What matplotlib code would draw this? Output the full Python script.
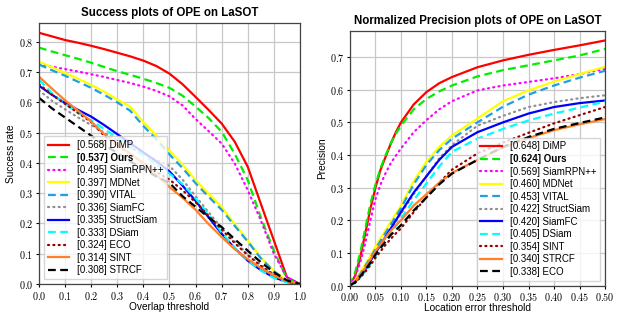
import numpy as np
import matplotlib
matplotlib.use("Agg")
import matplotlib.pyplot as plt
from matplotlib.ticker import FuncFormatter

plt.rcParams["mathtext.fontset"] = "cm"
plt.rcParams["font.family"] = ["Liberation Sans", "DejaVu Sans"]

# ---- success plot (overlap threshold) ----
overlap = [0.0, 0.05, 0.1, 0.15, 0.2, 0.25, 0.3, 0.35, 0.4, 0.45, 0.5,
           0.55, 0.6, 0.65, 0.7, 0.75, 0.8, 0.85, 0.9, 0.95, 1.0]

succ_names = ["DiMP", "Ours", "SiamRPN++", "MDNet", "VITAL", "SiamFC",
              "StructSiam", "DSiam", "ECO", "SINT", "STRCF"]
succ_auc = ["0.568", "0.537", "0.495", "0.397", "0.390", "0.336",
            "0.335", "0.333", "0.324", "0.314", "0.308"]

succ_dimp = [0.83, 0.818, 0.806, 0.797, 0.787, 0.776, 0.764, 0.752, 0.738, 0.72, 0.695,
             0.66, 0.618, 0.575, 0.53, 0.47, 0.387, 0.265, 0.144, 0.022, 0.0]
succ_ours = [0.781, 0.768, 0.756, 0.744, 0.731, 0.717, 0.703, 0.691, 0.678, 0.664, 0.648,
             0.622, 0.586, 0.548, 0.503, 0.43, 0.343, 0.22, 0.11, 0.017, 0.0]
succ_siamrpn = [0.725, 0.718, 0.71, 0.702, 0.693, 0.684, 0.674, 0.664, 0.652, 0.638, 0.62,
                0.59, 0.545, 0.505, 0.464, 0.398, 0.31, 0.21, 0.10, 0.022, 0.0]
succ_mdnet = [0.735, 0.716, 0.697, 0.678, 0.658, 0.635, 0.61, 0.585, 0.535, 0.49, 0.44,
              0.395, 0.343, 0.298, 0.254, 0.198, 0.144, 0.088, 0.044, 0.011, 0.0]
succ_vital = [0.725, 0.706, 0.688, 0.668, 0.648, 0.625, 0.6, 0.572, 0.522, 0.478, 0.428,
              0.383, 0.333, 0.288, 0.245, 0.192, 0.14, 0.085, 0.042, 0.01, 0.0]
succ_siamfc = [0.64, 0.605, 0.577, 0.55, 0.525, 0.50, 0.475, 0.45, 0.43, 0.41, 0.39,
               0.345, 0.29, 0.237, 0.185, 0.14, 0.098, 0.062, 0.032, 0.01, 0.0]
succ_structsiam = [0.655, 0.625, 0.598, 0.575, 0.553, 0.525, 0.495, 0.465, 0.435, 0.405, 0.372,
                   0.325, 0.275, 0.22, 0.166, 0.118, 0.077, 0.046, 0.022, 0.007, 0.0]
succ_dsiam = [0.675, 0.63, 0.595, 0.565, 0.54, 0.512, 0.483, 0.455, 0.425, 0.395, 0.365,
              0.33, 0.283, 0.23, 0.17, 0.12, 0.078, 0.045, 0.02, 0.005, 0.0]
succ_eco = [0.66, 0.625, 0.595, 0.565, 0.535, 0.49, 0.458, 0.43, 0.40, 0.37, 0.345,
            0.31, 0.27, 0.225, 0.18, 0.135, 0.095, 0.06, 0.03, 0.009, 0.0]
succ_sint = [0.685, 0.645, 0.607, 0.572, 0.537, 0.495, 0.462, 0.43, 0.40, 0.36, 0.32,
             0.285, 0.245, 0.198, 0.155, 0.115, 0.082, 0.053, 0.028, 0.01, 0.0]
succ_strcf = [0.615, 0.58, 0.55, 0.52, 0.49, 0.46, 0.433, 0.405, 0.38, 0.355, 0.334,
              0.29, 0.255, 0.22, 0.188, 0.148, 0.11, 0.072, 0.039, 0.012, 0.0]

succ_curves = [succ_dimp, succ_ours, succ_siamrpn, succ_mdnet, succ_vital, succ_siamfc,
               succ_structsiam, succ_dsiam, succ_eco, succ_sint, succ_strcf]

# ---- normalized precision plot (location error threshold) ----
loc_err = [0.0, 0.01, 0.02, 0.03, 0.04, 0.05, 0.06, 0.07, 0.08, 0.09, 0.1,
           0.125, 0.15, 0.175, 0.2, 0.25, 0.3, 0.35, 0.4, 0.45, 0.5]

prec_names = ["DiMP", "Ours", "SiamRPN++", "MDNet", "VITAL", "StructSiam",
              "SiamFC", "DSiam", "SINT", "STRCF", "ECO"]
prec_auc = ["0.648", "0.624", "0.569", "0.460", "0.453", "0.422",
            "0.420", "0.405", "0.354", "0.340", "0.338"]

prec_dimp = [0.0, 0.03, 0.085, 0.16, 0.235, 0.30, 0.355, 0.395, 0.435, 0.47, 0.50,
             0.555, 0.593, 0.62, 0.639, 0.669, 0.69, 0.707, 0.722, 0.736, 0.751]
prec_ours = [0.0, 0.04, 0.10, 0.175, 0.25, 0.31, 0.36, 0.40, 0.435, 0.465, 0.49,
             0.54, 0.572, 0.595, 0.613, 0.641, 0.66, 0.675, 0.69, 0.705, 0.725]
prec_siamrpn = [0.0, 0.025, 0.07, 0.13, 0.2, 0.265, 0.31, 0.345, 0.375, 0.398, 0.42,
                0.47, 0.507, 0.54, 0.565, 0.598, 0.613, 0.624, 0.635, 0.648, 0.664]
prec_mdnet = [0.0, 0.015, 0.04, 0.065, 0.09, 0.12, 0.145, 0.17, 0.195, 0.22, 0.245,
              0.32, 0.38, 0.425, 0.46, 0.512, 0.565, 0.598, 0.625, 0.648, 0.67]
prec_vital = [0.0, 0.012, 0.035, 0.06, 0.085, 0.112, 0.137, 0.162, 0.187, 0.212, 0.237,
              0.31, 0.37, 0.415, 0.45, 0.5, 0.548, 0.585, 0.613, 0.637, 0.658]
prec_structsiam = [0.0, 0.01, 0.03, 0.05, 0.075, 0.1, 0.123, 0.147, 0.172, 0.197, 0.22,
                   0.28, 0.335, 0.39, 0.43, 0.49, 0.52, 0.547, 0.562, 0.574, 0.583]
prec_siamfc = [0.0, 0.01, 0.03, 0.05, 0.075, 0.1, 0.125, 0.15, 0.175, 0.2, 0.225,
               0.285, 0.335, 0.385, 0.425, 0.47, 0.50, 0.527, 0.547, 0.559, 0.567]
prec_dsiam = [0.0, 0.008, 0.025, 0.043, 0.065, 0.09, 0.115, 0.138, 0.16, 0.182, 0.205,
              0.262, 0.313, 0.365, 0.41, 0.45, 0.48, 0.506, 0.527, 0.545, 0.564]
prec_sint = [0.0, 0.008, 0.024, 0.042, 0.062, 0.085, 0.105, 0.125, 0.143, 0.16, 0.175,
             0.225, 0.27, 0.315, 0.355, 0.405, 0.438, 0.468, 0.497, 0.522, 0.547]
prec_strcf = [0.0, 0.012, 0.032, 0.055, 0.08, 0.105, 0.127, 0.148, 0.168, 0.185, 0.2,
              0.245, 0.28, 0.315, 0.345, 0.385, 0.422, 0.452, 0.476, 0.494, 0.51]
prec_eco = [0.0, 0.01, 0.028, 0.048, 0.07, 0.095, 0.115, 0.135, 0.155, 0.17, 0.185,
            0.23, 0.27, 0.31, 0.343, 0.385, 0.425, 0.455, 0.48, 0.498, 0.515]

prec_curves = [prec_dimp, prec_ours, prec_siamrpn, prec_mdnet, prec_vital, prec_structsiam,
               prec_siamfc, prec_dsiam, prec_sint, prec_strcf, prec_eco]

# style per rank (same in both plots)
colors = ["#ff0000", "#00ee00", "#ff00ff", "#ffff00", "#1e9fe6", "#909090",
          "#0000ff", "#00ffff", "#990000", "#ff7f2a", "#000000"]
DASH = (0, (3.5, 2))
DOT = (0, (0.5, 1.9))
styles = ["-", DASH, DOT, "-", DASH, DOT, "-", DASH, DOT, "-", DASH]


def draw(ax, x, curves, names, aucs, title, xlabel, ylabel, legend_loc):
    for i, y in enumerate(curves):
        cap = "round" if styles[i] == DOT else "butt"
        ax.plot(x, y, color=colors[i], linestyle=styles[i], linewidth=1.6,
                dash_capstyle=cap, label=f"[{aucs[i]}] {names[i]}")
    ax.grid(True, color="#c8c8c8", linewidth=0.9)
    ax.set_axisbelow(True)
    ax.set_title(title, fontsize=8.3, fontweight="bold", pad=5)
    ax.set_xlabel(xlabel, fontsize=7.3, labelpad=0)
    ax.set_ylabel(ylabel, fontsize=7.3, labelpad=2)
    ax.tick_params(labelsize=7.3, length=2.5, width=0.8, pad=1.5)
    for s in ax.spines.values():
        s.set_color("#444444")
        s.set_linewidth(0.9)
    leg = ax.legend(loc=legend_loc, fontsize=7, labelspacing=0.26,
                    handlelength=2.2, handletextpad=0.8, borderpad=0.4,
                    framealpha=0.8, fancybox=False, edgecolor="#cccccc")
    for t in leg.get_texts():
        if t.get_text().endswith("Ours"):
            t.set_fontweight("bold")
    return leg


fig = plt.figure(figsize=(6.18, 3.12), dpi=100)
ax1 = fig.add_axes([0.0631, 0.0897, 0.4223, 0.8363])
ax2 = fig.add_axes([0.5663, 0.0849, 0.4127, 0.8157])

draw(ax1, overlap, succ_curves, succ_names, succ_auc,
     "Success plots of OPE on LaSOT", "Overlap threshold", "Success rate", "lower left")
ax1.set_xlim(0, 1)
ax1.set_ylim(0, 0.862)
ax1.set_xticks(np.arange(0, 1.01, 0.1))
ax1.set_yticks(np.arange(0, 0.81, 0.1))
ax1.xaxis.set_major_formatter(FuncFormatter(lambda v, p: f"${v:.1f}$"))
ax1.yaxis.set_major_formatter(FuncFormatter(lambda v, p: f"${v:.1f}$"))

draw(ax2, loc_err, prec_curves, prec_names, prec_auc,
     "Normalized Precision plots of OPE on LaSOT", "Location error threshold", "Precision",
     "lower right")
ax2.set_xlim(0, 0.5)
ax2.set_ylim(0, 0.78)
ax2.set_xticks(np.arange(0, 0.501, 0.05))
ax2.set_yticks(np.arange(0, 0.71, 0.1))
ax2.xaxis.set_major_formatter(FuncFormatter(lambda v, p: f"${v:.2f}$"))
ax2.yaxis.set_major_formatter(FuncFormatter(lambda v, p: f"${v:.1f}$"))

fig.savefig("out.png", dpi=100)
